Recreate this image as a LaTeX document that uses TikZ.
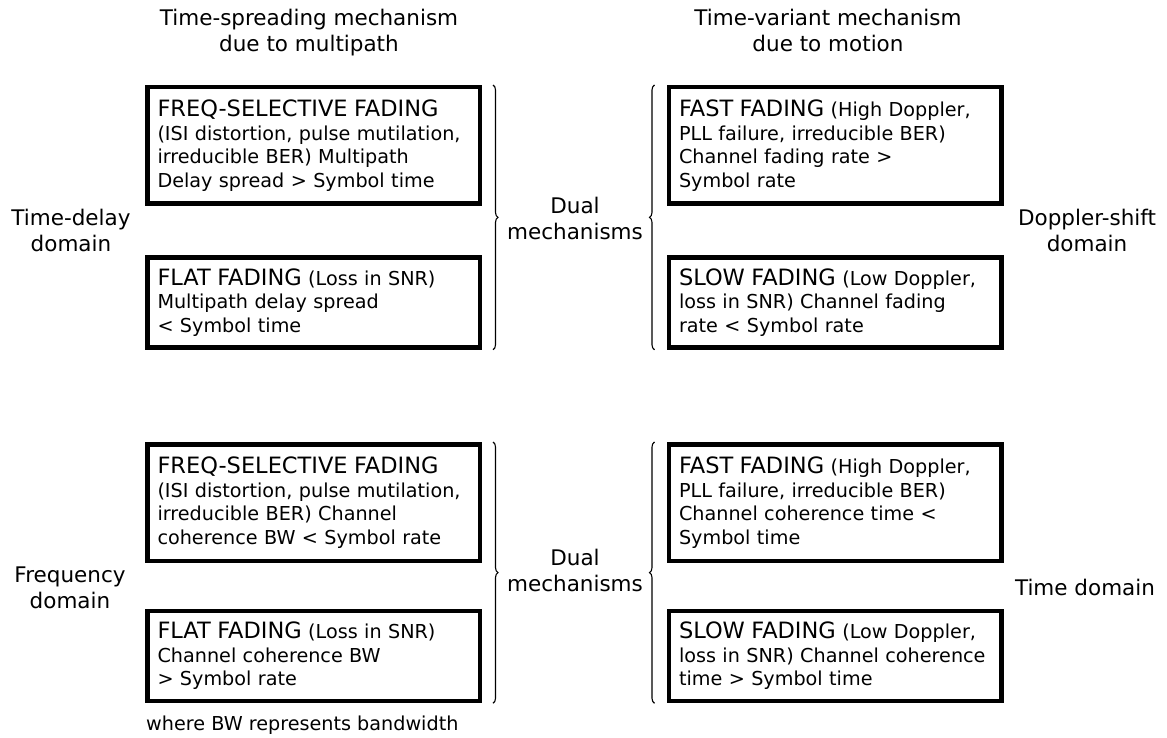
\documentclass[tikz,border=0pt]{standalone}
\usepackage{fontspec}
\setmainfont{DejaVu Sans}
\usetikzlibrary{decorations.pathreplacing}
\newcommand{\tieude}[1]{{\fontsize{22.5}{23.5}\selectfont #1}}

\begin{document}
\begin{tikzpicture}[x=1pt, y=-1pt,
    fadebox/.style={draw, line width=4.5pt, minimum width=332.5pt, text width=312pt,
        align=left, inner sep=0pt, font={\fontsize{19.2}{23.5}\selectfont}},
    tallbox/.style={fadebox, minimum height=116.5pt},
    shortbox/.style={fadebox, minimum height=90pt},
    lbl/.style={align=center, inner sep=0pt, font={\fontsize{21.5}{26}\selectfont}},
    ngoac/.style={decorate, decoration={brace, amplitude=5pt}, line width=1.1pt}]
    % 1. Vùng hiển thị
    \useasboundingbox (0,0) rectangle (1167,738);

    % 2. Tiêu đề hai cột
    \node[lbl] (hdleft) at (309,32.5) {Time-spreading mechanism\\due to multipath};
    \node[lbl] (hdright) at (828,30.5) {Time-variant mechanism\\due to motion};

    % 3. Các hộp phía trên (miền trễ / miền Doppler)
    \node[tallbox] (fsdelay) at (313.5,145.5) {\tieude{FREQ-SELECTIVE FADING}\\(ISI distortion, pulse mutilation,\\irreducible BER) Multipath\\Delay spread > Symbol time};
    \node[shortbox] (ffdelay) at (313.5,302.5) {\tieude{FLAT FADING} (Loss in SNR)\\Multipath delay spread\\< Symbol time};
    \node[tallbox] (fastdop) at (835,145.5) {\tieude{FAST FADING} (High Doppler,\\PLL failure, irreducible BER)\\Channel fading rate >\\Symbol rate};
    \node[shortbox] (slowdop) at (835,302.5) {\tieude{SLOW FADING} (Low Doppler,\\loss in SNR) Channel fading\\rate < Symbol rate};

    % 4. Các hộp phía dưới (miền tần số / miền thời gian)
    \node[tallbox] (fsfreq) at (313.5,502.5) {\tieude{FREQ-SELECTIVE FADING}\\(ISI distortion, pulse mutilation,\\irreducible BER) Channel\\coherence BW < Symbol rate};
    \node[shortbox] (fffreq) at (313.5,656) {\tieude{FLAT FADING} (Loss in SNR)\\Channel coherence BW\\> Symbol rate};
    \node[tallbox] (fasttime) at (835,502.5) {\tieude{FAST FADING} (High Doppler,\\PLL failure, irreducible BER)\\Channel coherence time <\\Symbol time};
    \node[shortbox] (slowtime) at (835,656) {\tieude{SLOW FADING} (Low Doppler,\\loss in SNR) Channel coherence\\time > Symbol time};

    % 5. Dấu ngoặc nhọn
    \draw[ngoac] ([xshift=11pt]fsdelay.north east) -- ([xshift=11pt]ffdelay.south east);
    \draw[ngoac, decoration={mirror}] ([xshift=-12pt]fastdop.north west) -- ([xshift=-12pt]slowdop.south west);
    \draw[ngoac] ([xshift=11pt]fsfreq.north east) -- ([xshift=11pt]fffreq.south east);
    \draw[ngoac, decoration={mirror}] ([xshift=-12pt]fasttime.north west) -- ([xshift=-12pt]slowtime.south west);

    % 6. Nhãn các miền
    \node[lbl] (dualtop) at (575,218.5) {Dual\\mechanisms};
    \node[lbl] (dualbot) at (575,570) {Dual\\mechanisms};
    \node[lbl] (delaydom) at (71,230.5) {Time-delay\\domain};
    \node[lbl] (dopdom) at (1087,230.5) {Doppler-shift\\domain};
    \node[lbl] (freqdom) at (70,587.5) {Frequency\\domain};
    \node[lbl] (timedom) at (1085,587) {Time domain};
    \node[anchor=west, inner sep=0pt, font={\fontsize{19.2}{23}\selectfont}] (note) at (146,725) {where BW represents bandwidth};
\end{tikzpicture}
\end{document}
